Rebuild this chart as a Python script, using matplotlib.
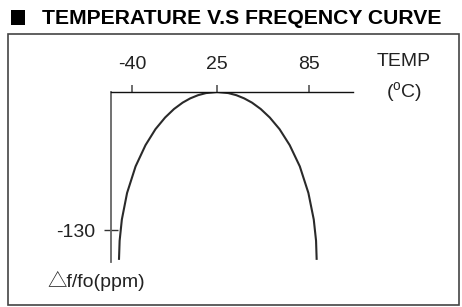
import matplotlib
matplotlib.use("Agg")
import matplotlib.pyplot as plt
from matplotlib.patches import Rectangle
import numpy as np

# curve: temperature (C) vs frequency shift (ppm)
temp = [-50.0, -49.5, -47.8, -43.8, -37.3, -29.7, -22.1, -14.7, -7.9, -1.3, 4.5, 10.5, 16.6,
        25.0, 32.3, 37.6, 42.7, 47.8, 53.5, 59.4, 65.8, 72.4, 79.0, 84.6, 88.1, 89.6, 90.0]
ppm = [-158, -140, -120, -95, -70, -50, -35, -24, -16, -10, -6, -3, -1,
       0, -1, -3, -6, -10, -16, -24, -35, -50, -70, -95, -120, -140, -158]

temp_ticks = [-40, 25, 85]
ppm_ticks = [-130]

plt.rcParams["font.family"] = ["Liberation Sans", "DejaVu Sans"]
plt.rcParams["mathtext.fontset"] = "custom"
plt.rcParams["mathtext.rm"] = "Liberation Sans"

W, H = 462, 307
FS = 14
fig = plt.figure(figsize=(W / 100, H / 100), dpi=100)


# drawing is schematic: the two halves of the temp axis use different spacing
def fwd(t):
    t = np.asarray(t, dtype=float)
    return np.where(t < 25, (t - 25) * 85 / 65, (t - 25) * 92 / 60)


def inv(u):
    u = np.asarray(u, dtype=float)
    return np.where(u < 0, u * 65 / 85 + 25, u * 60 / 92 + 25)


ax = fig.add_axes([111 / W, 45 / H, (353 - 111) / W, (262 - 92) / H])
ax.set_xscale("function", functions=(fwd, inv))
ax.set_xlim(-56.1, 113.7)
ax.set_ylim(-160, 0)

ax.plot(temp, ppm, color="#2a2a2a", lw=1.5, solid_capstyle="butt")

for s in ("bottom", "right"):
    ax.spines[s].set_visible(False)
ax.spines["top"].set_color("#111")
ax.spines["top"].set_linewidth(1.0)
ax.spines["left"].set_color("#666")
ax.spines["left"].set_linewidth(1.3)

ax.xaxis.tick_top()
ax.set_xticks(temp_ticks)
ax.set_xticklabels([str(t) for t in temp_ticks])
ax.tick_params(axis="x", direction="out", length=5, width=1.2, color="#555",
               pad=8.5, labelsize=FS, labelcolor="#222")
ax.set_yticks(ppm_ticks)
ax.set_yticklabels([str(p) for p in ppm_ticks])
ax.tick_params(axis="y", direction="inout", length=10, width=1.0, color="#333",
               pad=6, labelsize=FS, labelcolor="#222")
ax.minorticks_off()
ax.patch.set_visible(False)

fig.text(404 / W, 1 - 62 / H, "TEMP", ha="center", va="center", fontsize=FS, color="#222")
fig.text(404 / W, 1 - 93 / H, r"($^{\mathrm{o}}$C)", ha="center", va="center", fontsize=FS, color="#222")
fig.text(47 / W, 1 - 281 / H, "\u25b3f/fo(ppm)", ha="left", va="center", fontsize=FS, color="#222",
         family=["Liberation Sans", "Noto Sans CJK SC", "DejaVu Sans"])

# frame and title
fig.add_artist(Rectangle((8 / W, 1 - 305 / H), (459 - 8) / W, (305 - 34) / H,
                         transform=fig.transFigure, fill=False, ec="#444", lw=1.2))
fig.add_artist(Rectangle((11 / W, 1 - 25 / H), 14 / W, 15 / H,
                         transform=fig.transFigure, fc="black", ec="none"))
fig.text(42 / W, 1 - 18 / H, "TEMPERATURE V.S FREQENCY CURVE", ha="left", va="center",
         fontsize=15.2, fontweight="bold", color="black")

fig.savefig("out.png", dpi=100)
